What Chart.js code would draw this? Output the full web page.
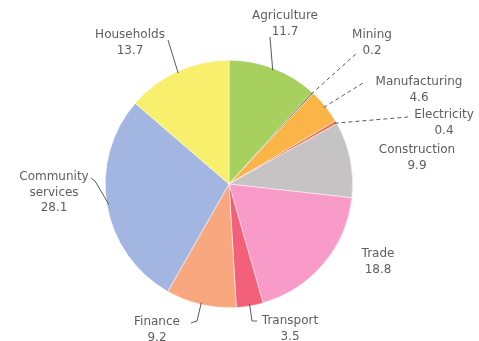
<!DOCTYPE html>
<html>
<head>
<meta charset="utf-8">
<script src="https://cdn.jsdelivr.net/npm/chart.js@4.4.0/dist/chart.umd.min.js"></script>
<style>
    body { margin: 0; background: #ffffff; }
    #caixa { position: relative; width: 479px; height: 341px; }
</style>
</head>
<body>
<div id="caixa">
    <canvas id="myChart" width="479" height="341"></canvas>
</div>
<script>
var lista_setores = ['Agriculture', 'Mining', 'Manufacturing', 'Electricity', 'Construction', 'Trade', 'Transport', 'Finance', 'Community services', 'Households'];
var lista_valores = [11.7, 0.2, 4.6, 0.4, 9.9, 18.8, 3.5, 9.2, 28.1, 13.7];
var lista_cores = ['#a8d05e', '#4f5842', '#fbb448', '#f46d43', '#c5c3c3', '#f99bc9', '#f3607a', '#f9a77e', '#a3b6e2', '#f8ef6c'];

// texto de cada rotulo (linhas) e onde ele fica
var lista_rotulos = [
    { linhas: ['Agriculture', '11.7'], x: 285, y: 16, fim: [[270, 37]], tracejado: false },
    { linhas: ['Mining', '0.2'], x: 372, y: 35, fim: [[357, 53]], tracejado: true },
    { linhas: ['Manufacturing', '4.6'], x: 419, y: 82, fim: [[363, 83]], tracejado: true },
    { linhas: ['Electricity', '0.4'], x: 444, y: 115, fim: [[408, 117]], tracejado: true },
    { linhas: ['Construction', '9.9'], x: 417, y: 150, fim: [], tracejado: false },
    { linhas: ['Trade', '18.8'], x: 378, y: 254, fim: [], tracejado: false },
    { linhas: ['Transport', '3.5'], x: 290, y: 321, fim: [[252, 321], [257, 321]], tracejado: false },
    { linhas: ['Finance', '9.2'], x: 157, y: 322, fim: [[197, 321], [191, 323]], tracejado: false },
    { linhas: ['Community', 'services', '28.1'], x: 54, y: 177, fim: [[95, 181], [91, 178]], tracejado: false },
    { linhas: ['Households', '13.7'], x: 130, y: 35, fim: [[168, 40]], tracejado: false }
];

var rotulos_plugin = {
    id: 'rotulos',
    afterDatasetsDraw: function (chart) {
        var ctx = chart.ctx;
        var meta = chart.getDatasetMeta(0);
        ctx.save();
        for (let c = 0; c < meta.data.length; c++) {
            var arco = meta.data[c].getProps(['x', 'y', 'startAngle', 'endAngle', 'outerRadius'], true);
            var rot = lista_rotulos[c];
            var meio = (arco.startAngle + arco.endAngle) / 2;

            // linha de chamada saindo da borda da fatia
            if (rot.fim.length > 0) {
                ctx.strokeStyle = '#5a5a5a';
                ctx.lineWidth = 1;
                ctx.setLineDash(rot.tracejado ? [4, 3] : []);
                ctx.beginPath();
                ctx.moveTo(arco.x + Math.cos(meio) * (arco.outerRadius - 2), arco.y + Math.sin(meio) * (arco.outerRadius - 2));
                for (let p = 0; p < rot.fim.length; p++) {
                    ctx.lineTo(rot.fim[p][0], rot.fim[p][1]);
                }
                ctx.stroke();
            }

            ctx.setLineDash([]);
            ctx.fillStyle = '#5e5e5e';
            ctx.font = '12px "DejaVu Sans"';
            ctx.textAlign = 'center';
            ctx.textBaseline = 'middle';
            for (let l = 0; l < rot.linhas.length; l++) {
                ctx.fillText(rot.linhas[l], rot.x, rot.y + l * 15.5);
            }
        }
        ctx.restore();
    }
};

function graf() {
    const data = {
        labels: lista_setores,
        datasets: [{
            data: lista_valores,
            backgroundColor: lista_cores,
            borderColor: '#ffffff',
            borderWidth: 0.5
        }]
    };

    const config = {
        type: 'pie',
        data: data,
        options: {
            responsive: false,
            animation: false,
            layout: { padding: { left: 105, right: 126, top: 60, bottom: 33 } },
            plugins: {
                legend: { display: false },
                tooltip: { enabled: false }
            }
        },
        plugins: [rotulos_plugin]
    };

    const myChart = new Chart(
        document.getElementById('myChart'),
        config
    );
}

graf();
</script>
</body>
</html>
